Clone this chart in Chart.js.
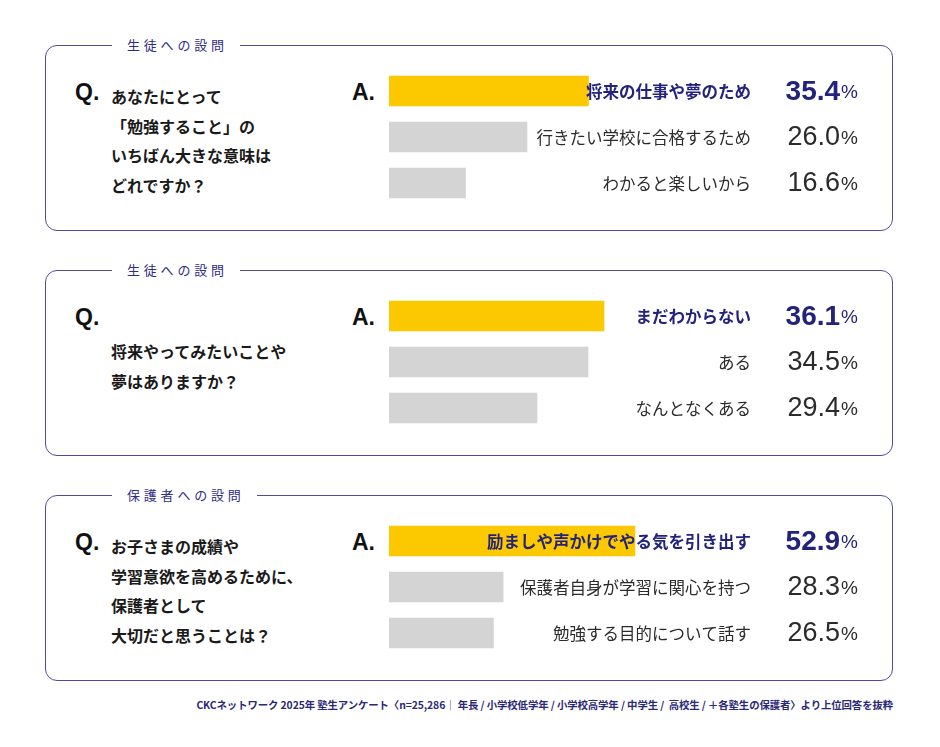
<!DOCTYPE html>
<html lang="ja">
<head>
<meta charset="utf-8">
<script src="https://cdn.jsdelivr.net/npm/chart.js@4.4.1/dist/chart.umd.min.js"></script>
<style>
  html, body { margin: 0; padding: 0; background: #fff; }
  body { width: 940px; height: 747px; position: relative; overflow: hidden;
         font-family: "Noto Sans CJK JP", "Noto Sans", sans-serif; color: #222; }
  .panel { position: absolute; left: 45px; width: 848px; height: 186px; box-sizing: border-box;
           border: 1.5px solid #4f4c9c; border-radius: 12px; }
  .tag { position: absolute; left: 66px; top: -11px; background: #fff; padding: 0 12px 0 15px;
         font-size: 13px; line-height: 20px; letter-spacing: 3.8px; color: #2f2c86; }
  .qa { position: absolute; font-family: "Liberation Sans", Arial, sans-serif; font-weight: 700;
        font-size: 23px; line-height: 26px; color: #111; }
  .qtext { position: absolute; left: 65px; font-size: 16px; font-weight: 700; line-height: 29.7px;
           color: #1a1a1a; white-space: nowrap; }
  .panel canvas { position: absolute; left: 343px; top: 22px; }
  .note { position: absolute; right: 47px; top: 697px; font-size: 10.4px; color: #2a2878;
          font-weight: 700; letter-spacing: -0.1px; white-space: nowrap; }
</style>
</head>
<body>
<div id="root"></div>
<div class="note">CKCネットワーク 2025年 塾生アンケート〈n=25,286｜ 年長 / 小学校低学年 / 小学校高学年 / 中学生 /&nbsp; 高校生 / ＋各塾生の保護者〉より上位回答を抜粋</div>
<script>
// --- data ---
const panelTags = ['生徒への設問', '生徒への設問', '保護者への設問'];
const questions1 = ['あなたにとって', '「勉強すること」の', 'いちばん大きな意味は', 'どれですか？'];
const questions2 = ['将来やってみたいことや', '夢はありますか？'];
const questions3 = ['お子さまの成績や', '学習意欲を高めるために、', '保護者として', '大切だと思うことは？'];

const answers1 = ['将来の仕事や夢のため', '行きたい学校に合格するため', 'わかると楽しいから'];
const values1 = [35.4, 26.0, 16.6];
const answers2 = ['まだわからない', 'ある', 'なんとなくある'];
const values2 = [36.1, 34.5, 29.4];
const answers3 = ['励ましや声かけでやる気を引き出す', '保護者自身が学習に関心を持つ', '勉強する目的について話す'];
const values3 = [52.9, 28.3, 26.5];

const NAVY = '#23237d';
const YELLOW = '#fcc800';
const GRAY = '#d4d4d4';

// per panel: top position, question first line offset, x-axis range
const panels = [
  { top: 45,  tag: panelTags[0], q: questions1, labels: answers1, data: values1, qTop: 36, xMin: 4.9,  xMax: 78.3 },
  { top: 270, tag: panelTags[1], q: questions2, labels: answers2, data: values2, qTop: 66, xMin: 14.6, xMax: 62.6 },
  { top: 495, tag: panelTags[2], q: questions3, labels: answers3, data: values3, qTop: 36, xMin: 7.0,  xMax: 96.6 },
];

const answerLabels = {
  id: 'answerLabels',
  afterDatasetsDraw(chart, args, opts) {
    const ctx = chart.ctx;
    const meta = chart.getDatasetMeta(0);
    const vals = chart.data.datasets[0].data;
    meta.data.forEach((bar, i) => {
      const first = i === 0;
      ctx.save();
      ctx.textBaseline = 'middle';
      ctx.textAlign = 'right';
      ctx.fillStyle = first ? NAVY : '#2b2b2b';
      ctx.font = (first ? '700 ' : '400 ') + '16.5px "Noto Sans CJK JP"';
      ctx.fillText(chart.data.labels[i], opts.labelRight, bar.y + 1);
      ctx.font = '400 19px "Liberation Sans"';
      ctx.fillText('%', opts.pctRight, bar.y + 2);
      const pw = ctx.measureText('%').width;
      ctx.font = (first ? '700 28px' : '400 27px') + ' "Liberation Sans"';
      ctx.fillText(vals[i].toFixed(1), opts.pctRight - pw - 1, bar.y + 1);
      ctx.restore();
    });
  }
};

const root = document.getElementById('root');
panels.forEach((p, idx) => {
  const el = document.createElement('div');
  el.className = 'panel';
  el.style.top = p.top + 'px';
  el.innerHTML =
    `<div class="tag">${p.tag}</div>` +
    `<div class="qa" style="left:29px;top:33px">Q.</div>` +
    `<div class="qa" style="left:306px;top:33px">A.</div>` +
    `<div class="qtext" style="top:${p.qTop}px">${p.q.join('<br>')}</div>`;
  const cv = document.createElement('canvas');
  cv.width = 480; cv.height = 138;
  cv.id = 'chart' + (idx + 1);
  el.appendChild(cv);
  root.appendChild(el);

  new Chart(cv.getContext('2d'), {
    type: 'bar',
    data: {
      labels: p.labels,
      datasets: [{
        data: p.data,
        backgroundColor: p.data.map((v, i) => i === 0 ? YELLOW : GRAY),
        borderWidth: 0,
        barThickness: 30,
        clip: 0
      }]
    },
    options: {
      indexAxis: 'y',
      responsive: false,
      animation: false,
      layout: { padding: 0 },
      plugins: {
        legend: { display: false },
        tooltip: { enabled: false },
        answerLabels: { labelRight: 362, pctRight: 469 }
      },
      scales: {
        x: { display: false, min: p.xMin, max: p.xMax },
        y: { display: false }
      }
    },
    plugins: [answerLabels]
  });
});
</script>
</body>
</html>
